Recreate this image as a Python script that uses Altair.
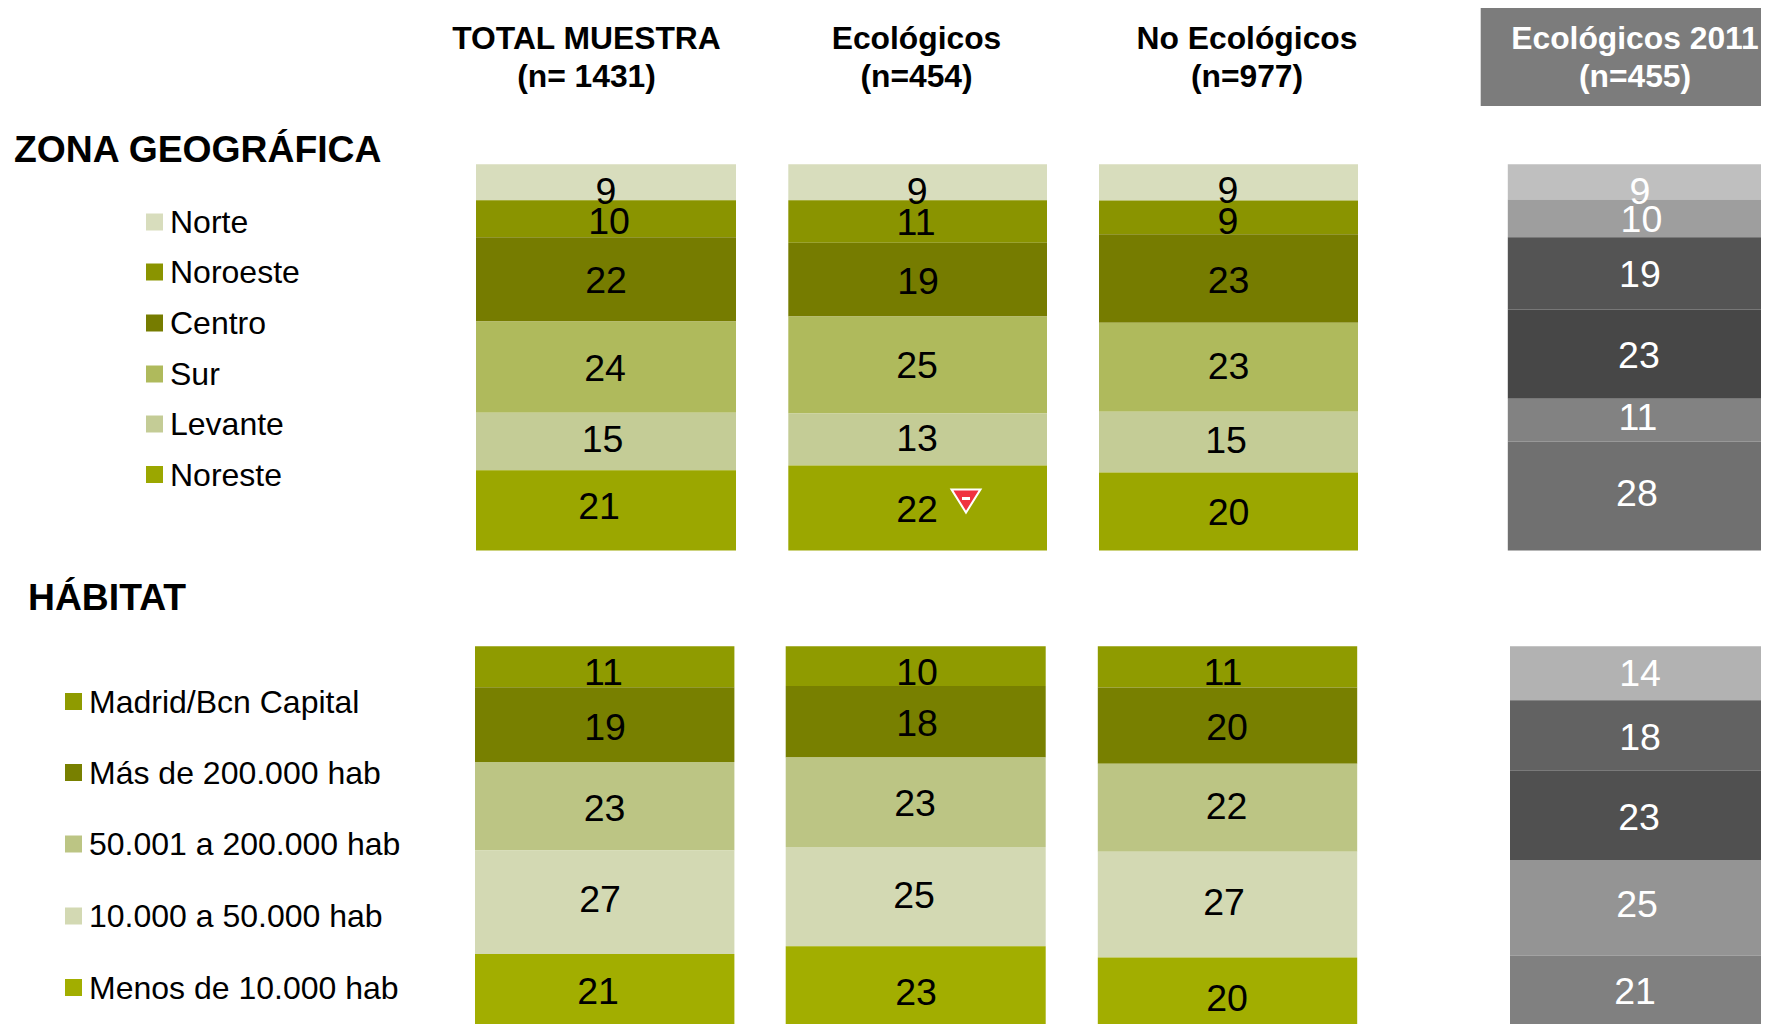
import altair as alt
import pandas as pd

# ---------- data ----------
columns = ["TOTAL MUESTRA", "Ecológicos", "No Ecológicos", "Ecológicos 2011"]
header_line2 = ["(n= 1431)", "(n=454)", "(n=977)", "(n=455)"]

zona_cats = ["Norte", "Noroeste", "Centro", "Sur", "Levante", "Noreste"]
zona_labels = [
    [9, 10, 22, 24, 15, 21],
    [9, 11, 19, 25, 13, 22],
    [9, 9, 23, 23, 15, 20],
    [9, 10, 19, 23, 11, 28],
]
zona_shares = [
    [9.3, 9.6, 21.8, 23.6, 14.9, 20.8],
    [9.3, 11.0, 19.1, 25.1, 13.5, 22.0],
    [9.4, 8.7, 22.9, 23.1, 15.7, 20.2],
    [9.1, 9.8, 18.7, 23.1, 11.1, 28.2],
]

habitat_cats = ["Madrid/Bcn Capital", "Más de 200.000 hab", "50.001 a 200.000 hab",
                "10.000 a 50.000 hab", "Menos de 10.000 hab"]
habitat_labels = [
    [11, 19, 23, 27, 21],
    [10, 18, 23, 25, 23],
    [11, 20, 22, 27, 20],
    [14, 18, 23, 25, 21],
]
habitat_shares = [
    [10.6, 19.4, 22.9, 26.8, 20.3],
    [10.3, 18.5, 23.2, 25.7, 22.3],
    [10.7, 19.7, 22.8, 27.4, 19.4],
    [14.0, 18.3, 23.1, 24.8, 19.9],
]

# ---------- styles ----------
zona_green = ["#D8DDBD", "#8A9400", "#767C00", "#AFBA5C", "#C4CC96", "#9BA700"]
zona_gray = ["#BFBFBF", "#9E9E9E", "#545454", "#474747", "#828282", "#707070"]
habitat_green = ["#8F9B00", "#788000", "#BCC584", "#D3D9B3", "#A2AE00"]
habitat_gray = ["#B2B2B2", "#626262", "#505050", "#949494", "#808080"]
FONT = "Liberation Sans"

# ---------- layout (reference pixels) ----------
PAGE_W, PAGE_H = 1769, 1032
M = 8
CHART_H = 1016
CHART_W = 1753

zona_edges = [(476, 736), (788.3, 1047), (1099, 1358), (1507.8, 1769)]
habitat_edges = [(475, 734.4), (785.7, 1045.7), (1097.8, 1357.2), (1510, 1769)]
zona_span = (164.3, 550.5)
habitat_span = (646.2, 1032.5)

# hand placement of the value labels, relative to the middle of each segment
zona_dx = [[0, 3, 0, -1, -3.5, -7], [-.6, -1.6, .4, -.6, -.6, -.6],
           [-.5, -.5, 0, 0, -2.5, 0], [1.5, 3, 1.5, .5, -.5, -1.5]]
zona_dy = [[7.8, 1.5, 0, .5, -3.3, -4.8], [7.8, -.3, .7, -.5, -1.5, .5],
           [7.5, 3.5, .6, -2, -2.6, 0], [8.5, 0, 0, .5, -3.5, -3.5]]
habitat_dx = [[-1.2, .3, -.2, -4.7, -6.7], [1.3, 1.3, -.7, -1.7, .3],
              [-4.5, -.5, -1, -3.5, -.5], [.5, .5, -.5, -2.5, -4.5]]
habitat_dy = [[4.8, 1.5, 1.1, -3.9, -2.9], [5.5, 1, .2, -2, 2.1],
              [4.6, 1, -2, -3.3, 2.5], [-.3, .6, .6, -4, -3.5]]

LABEL_SHIFT = 2.5

x_scale = alt.Scale(domain=[M, CHART_W + M], range=[0, CHART_W], nice=False, zero=False)
page_y = alt.Scale(domain=[M, CHART_H + M], range=[0, CHART_H], nice=False, zero=False)


def panel(prefix, cats, labels, shares, edges, span, green, gray, dx, dy):
    rows = []
    height = span[1] - span[0]
    for c, name in enumerate(columns):
        total = sum(shares[c])
        cum = 0.0
        left, right = edges[c]
        palette = gray if c == 3 else green
        for i, cat in enumerate(cats):
            s = shares[c][i]
            mid = 1 - (cum + s / 2) / total
            cum += s
            rows.append({
                "column": name, "category": cat, "idx": i, "share": s, "label": str(labels[c][i]),
                "left": left, "right": right,
                "key": f"{prefix}-{c}-{i}", "swatch": palette[i],
                "tx": (left + right) / 2 + dx[c][i],
                "ty": mid - (dy[c][i] + LABEL_SHIFT) / height,
                "ink": "#FFFFFF" if c == 3 else "#000000",
            })
    df = pd.DataFrame(rows)
    keys = df["key"].tolist()
    fills = df["swatch"].tolist()
    y_scale = alt.Scale(domain=[0, 1], range=[span[1] - M, span[0] - M], nice=False, zero=False)
    bars = alt.Chart(df).transform_stack(
        stack="share", as_=["y0", "y1"], groupby=["left"],
        sort=[alt.SortField("idx", order="descending")], offset="normalize",
    ).mark_rect().encode(
        x=alt.X("left:Q", scale=x_scale, axis=None),
        x2="right:Q",
        y=alt.Y("y0:Q", scale=y_scale, axis=None),
        y2="y1:Q",
        color=alt.Color("key:N", scale=alt.Scale(domain=keys, range=fills), legend=None),
    )
    text = alt.Chart(df).mark_text(font=FONT, fontSize=37.5, baseline="middle", align="center").encode(
        x=alt.X("tx:Q", scale=x_scale, axis=None),
        y=alt.Y("ty:Q", scale=y_scale, axis=None),
        text="label:N",
        color=alt.Color("ink:N", scale=None),
    )
    return [bars, text]


def page_text(rows, **mark):
    df = pd.DataFrame(rows, columns=["x", "y", "t", "ink"])
    return alt.Chart(df).mark_text(font=FONT, **mark).encode(
        x=alt.X("x:Q", scale=x_scale, axis=None),
        y=alt.Y("y:Q", scale=page_y, axis=None),
        text="t:N",
        color=alt.Color("ink:N", scale=None),
    )


def legend(cats, fills, x_swatch, x_text, centers):
    df = pd.DataFrame({"cat": cats, "swatch": fills, "y": centers, "xs": x_swatch, "xt": x_text})
    swatch = alt.Chart(df).mark_point(shape="square", filled=True, opacity=1, size=289).encode(
        x=alt.X("xs:Q", scale=x_scale, axis=None),
        y=alt.Y("y:Q", scale=page_y, axis=None),
        color=alt.Color("swatch:N", scale=None),
    )
    labels = alt.Chart(df).mark_text(font=FONT, fontSize=32, dy=1, align="left", baseline="middle", color="#000000").encode(
        x=alt.X("xt:Q", scale=x_scale, axis=None),
        y=alt.Y("y:Q", scale=page_y, axis=None),
        text="cat:N",
    )
    return [swatch, labels]


# grey header box behind the last column
box_df = pd.DataFrame({"x": [1480.7], "x2": [PAGE_W], "y": [8], "y2": [106]})
box = alt.Chart(box_df).mark_rect(color="#7C7C7C").encode(
    x=alt.X("x:Q", scale=x_scale, axis=None), x2="x2:Q",
    y=alt.Y("y:Q", scale=page_y, axis=None), y2="y2:Q",
)

header_x = [586.5, 916.5, 1247, 1635]
header_ink = ["#000000", "#000000", "#000000", "#FFFFFF"]
headers = page_text(
    [(header_x[i], 49, columns[i], header_ink[i]) for i in range(4)]
    + [(header_x[i], 87, header_line2[i], header_ink[i]) for i in range(4)],
    fontSize=31.8, fontWeight="bold", align="center", baseline="alphabetic",
)
sections = page_text(
    [(14, 162, "ZONA GEOGRÁFICA", "#000000"), (28, 610, "HÁBITAT", "#000000")],
    fontSize=37.3, fontWeight="bold", align="left", baseline="alphabetic",
)

# significance marker beside the 22 in the second column
marker_df = pd.DataFrame({"x": [966], "y": [501], "x0": [962], "x1": [970], "ym": [498.5]})
triangle = alt.Chart(marker_df).mark_point(
    shape="M-1,-0.8 L1,-0.8 L0,0.8 Z", filled=True, fill="#F0323F", stroke="#FFFFFF",
    strokeWidth=2, opacity=1, size=841,
).encode(x=alt.X("x:Q", scale=x_scale, axis=None), y=alt.Y("y:Q", scale=page_y, axis=None))
minus = alt.Chart(marker_df).mark_rule(color="#FFFFFF", strokeWidth=3).encode(
    x=alt.X("x0:Q", scale=x_scale, axis=None), x2="x1:Q",
    y=alt.Y("ym:Q", scale=page_y, axis=None),
)

layers = [box, headers, sections]
layers += panel("z", zona_cats, zona_labels, zona_shares, zona_edges, zona_span,
                zona_green, zona_gray, zona_dx, zona_dy)
layers += panel("h", habitat_cats, habitat_labels, habitat_shares, habitat_edges, habitat_span,
                habitat_green, habitat_gray, habitat_dx, habitat_dy)
layers += legend(zona_cats, zona_green, 154.5, 170, [222, 272, 323, 374, 424, 474.5])
layers += legend(habitat_cats, habitat_green, 73.5, 89, [701.5, 772.5, 844, 916, 987.5])
layers += [triangle, minus]

chart = alt.layer(*layers).resolve_scale(
    y="independent", color="independent"
).properties(
    width=CHART_W, height=CHART_H, padding=0, autosize=alt.AutoSizeParams(type="none"),
    background="#FFFFFF",
).configure_view(stroke=None)

chart.save("out.html", embed_options={"renderer": "svg", "actions": False})
